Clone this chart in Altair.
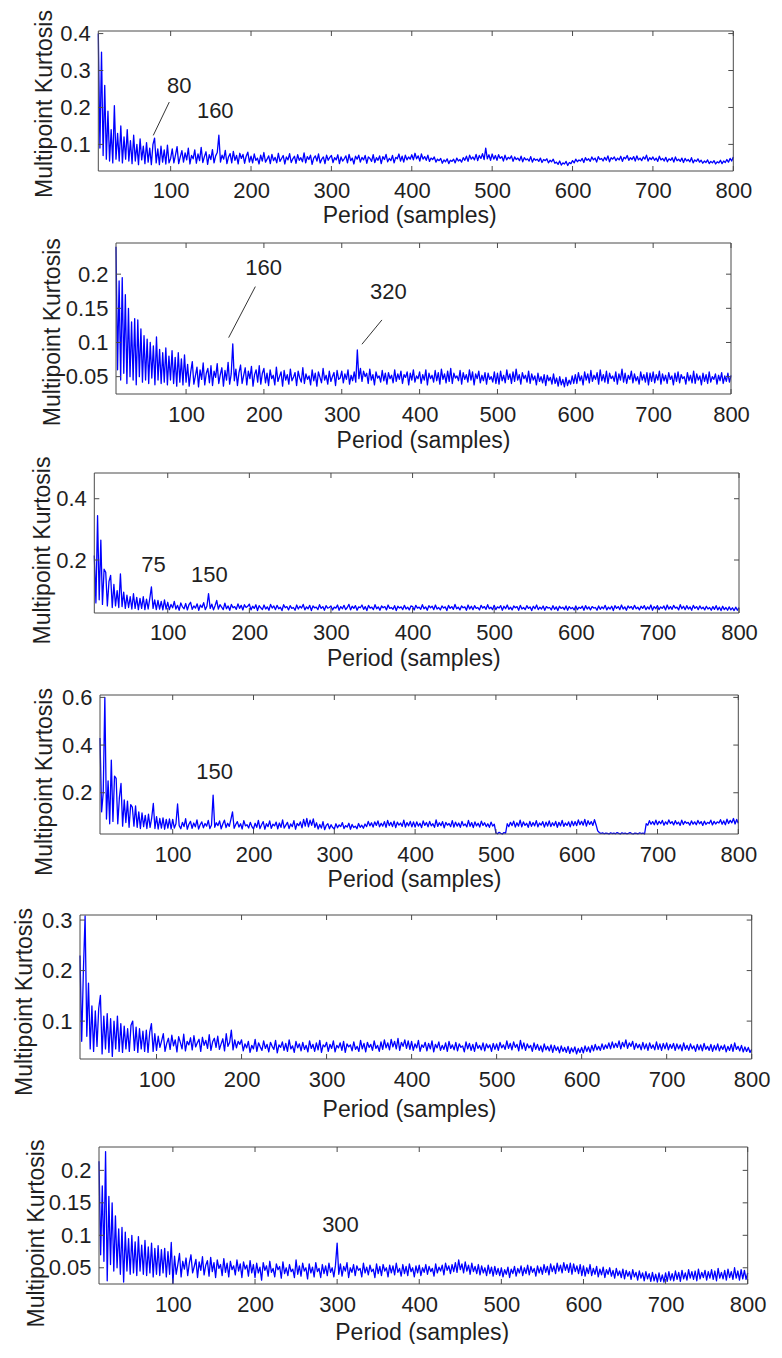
import altair as alt
import pandas as pd

# ---------------- data: kurtosis (units of 0.001), period 10..800 step 2 ------
periods = list(range(10, 801, 2))

k1 = [400, 90, 350, 70, 260, 60, 190, 55, 140, 50, 205, 60, 130, 55, 150, 50, 120, 60, 140, 55,
      110, 48, 125, 55, 100, 45, 115, 58, 95, 48, 105, 52, 90, 45, 100, 117, 50, 88, 45, 95,
      52, 85, 47, 98, 50,
      62, 88, 50, 71, 94, 48, 66, 83, 52, 77, 58, 90, 47, 70, 61, 85, 49, 74, 56, 92,
      51, 67, 80, 46, 72, 59, 86, 50, 69, 78, 125, 52, 71, 60, 84, 48, 66, 75, 50, 81,
      57, 70, 47, 76, 62, 73, 49, 68, 79, 52,
      68, 50, 74, 57, 63, 47, 71, 55, 78, 52, 60, 69, 48, 73, 56, 65, 50, 76, 54, 62,
      70, 47, 66, 58, 75, 51, 61, 68, 49, 72, 57, 64, 53, 77, 50, 67, 59, 71, 46, 63,
      69, 55, 74, 50, 60, 66, 48, 71, 57, 65,
      70, 51, 64, 58, 72, 48, 66, 55, 61, 69, 50, 73, 56, 63, 47, 68, 60, 71, 52, 65,
      58, 70, 49, 66, 62, 54, 72, 51, 64, 57, 69, 48, 67, 59, 73, 53, 62, 56, 70, 50,
      65, 61, 74, 55, 68, 52, 71, 58, 66, 60,
      72, 58, 76, 61, 69, 55, 74, 60, 67, 57, 71, 54, 63, 59, 66, 52, 60, 56, 62, 49,
      58, 53, 61, 48, 57, 54, 60, 50, 63, 55, 59, 52, 64, 57, 68, 54, 71, 60, 66, 58,
      73, 56, 70, 62, 75, 59, 90, 61, 72, 57,
      74, 60, 70, 57, 72, 62, 67, 55, 71, 58, 65, 61, 69, 54, 66, 59, 63, 56, 68, 53,
      64, 58, 61, 55, 67, 52, 62, 57, 60, 54, 63, 51, 59, 56, 61, 50, 57, 53, 60, 49,
      52, 46, 55, 44, 50, 47, 54, 43, 51, 48,
      56, 50, 60, 53, 58, 55, 62, 51, 64, 57, 61, 54, 66, 58, 63, 52, 67, 59, 62, 55,
      65, 57, 69, 53, 64, 60, 66, 56, 63, 58, 68, 54, 65, 61, 70, 57, 64, 59, 67, 55,
      69, 58, 63, 56, 66, 60, 71, 55, 64, 59,
      66, 57, 63, 54, 68, 58, 62, 55, 65, 53, 61, 57, 64, 52, 66, 56, 60, 54, 63, 51,
      62, 55, 59, 53, 64, 50, 58, 54, 61, 52, 57, 49, 55, 51, 58, 48, 54, 50, 56, 47,
      53, 50, 57, 48, 55, 51, 59, 52, 62, 55,
      66]

k2 = [240, 60, 190, 45, 195, 55, 170, 40, 150, 50, 130, 45, 135, 38, 133, 50, 120, 42, 110, 45,
      105, 40, 100, 48, 95, 38, 108, 45, 90, 40, 85, 42, 92, 38, 80, 45, 88, 40, 78, 36,
      85, 42, 76, 38, 82,
      42, 68, 36, 57, 72, 39, 51, 64, 35, 60, 46, 70, 38, 55, 62, 41, 66, 37, 58, 49,
      69, 40, 53, 63, 36, 59, 45, 71, 39, 54, 98, 44, 61, 37, 56, 67, 40, 52, 63, 38,
      58, 47, 65, 36, 53, 60, 42, 66, 39, 55,
      62, 41, 55, 37, 60, 47, 52, 38, 64, 43, 50, 57, 36, 59, 45, 53, 39, 61, 44, 49,
      56, 37, 58, 48, 42, 63, 40, 54, 46, 51, 38, 60, 44, 55, 36, 57, 49, 41, 62, 45,
      52, 39, 58, 43, 50, 56, 37, 59, 46, 48,
      58, 41, 54, 46, 60, 39, 52, 44, 57, 42, 89, 47, 62, 43, 58, 50, 55, 40, 61, 45,
      53, 38, 57, 48, 51, 42, 59, 44, 55, 39, 56, 47, 52, 41, 60, 43, 54, 46, 58, 40,
      53, 49, 57, 38, 55, 45, 60, 42, 51, 47,
      57, 40, 53, 45, 60, 38, 55, 47, 52, 42, 59, 44, 56, 39, 61, 46, 54, 41, 58, 43,
      62, 40, 55, 48, 51, 44, 59, 39, 56, 46, 53, 42, 60, 45, 57, 38, 54, 47, 58, 41,
      52, 44, 56, 39, 55, 46, 50, 42, 57, 40,
      55, 39, 58, 44, 52, 41, 60, 46, 54, 40, 57, 43, 61, 45, 53, 39, 56, 47, 52, 42,
      58, 40, 54, 45, 51, 38, 55, 43, 50, 41, 53, 37, 52, 44, 49, 39, 54, 40, 48, 36,
      50, 38, 46, 35, 49, 37, 45, 39, 51, 40,
      53, 40, 56, 44, 51, 38, 57, 45, 54, 41, 59, 43, 52, 46, 56, 39, 60, 44, 53, 42,
      58, 40, 55, 47, 51, 43, 57, 39, 54, 45, 61, 42, 55, 40, 52, 46, 58, 41, 54, 44,
      50, 39, 57, 45, 53, 42, 56, 38, 55, 43,
      57, 41, 53, 45, 58, 39, 54, 44, 52, 40, 56, 46, 51, 38, 55, 43, 57, 41, 53, 47,
      50, 39, 56, 44, 52, 41, 58, 40, 54, 45, 51, 38, 55, 43, 53, 40, 57, 42, 50, 46,
      54, 39, 52, 44, 56, 40, 51, 43, 55, 42,
      52]

k3 = [215, 60, 345, 70, 265, 55, 170, 160, 50, 130, 150, 45, 120, 50, 100, 45, 155, 48, 95, 42,
      85, 45, 80, 40, 90, 42, 78, 38, 75, 42, 80, 38, 72, 40, 75, 112, 42, 70, 38, 68,
      40, 65, 37, 70, 40,
      62, 38, 55, 44, 65, 40, 52, 36, 60, 47, 41, 58, 37, 54, 62, 39, 50, 43, 57, 36,
      53, 45, 61, 38, 49, 90, 42, 56, 37, 51, 68, 40, 54, 46, 38, 59, 41, 50, 36, 55,
      44, 48, 39, 57, 42, 52, 37, 54, 45, 49,
      56, 37, 49, 42, 54, 35, 51, 44, 38, 53, 40, 47, 36, 55, 43, 50, 38, 52, 41, 46,
      35, 54, 44, 48, 37, 51, 42, 45, 36, 53, 40, 49, 43, 55, 37, 47, 41, 52, 35, 50,
      44, 46, 38, 54, 42, 48, 36, 51, 43, 45,
      50, 37, 46, 43, 53, 36, 48, 41, 52, 38, 45, 55, 37, 49, 42, 51, 36, 47, 44, 53,
      39, 48, 35, 52, 43, 46, 38, 54, 41, 47, 36, 50, 44, 48, 37, 53, 42, 45, 39, 51,
      35, 49, 43, 47, 38, 52, 40, 46, 37, 50,
      48, 37, 52, 43, 46, 39, 54, 41, 47, 36, 51, 44, 49, 38, 53, 40, 45, 37, 50, 43,
      47, 35, 52, 42, 48, 39, 55, 41, 46, 37, 50, 44, 47, 36, 53, 40, 49, 38, 51, 42,
      45, 37, 52, 43, 48, 39, 54, 41, 46, 38,
      52, 38, 47, 43, 51, 36, 49, 41, 53, 39, 46, 37, 50, 44, 48, 36, 52, 40, 45, 38,
      51, 42, 47, 35, 49, 41, 53, 38, 46, 40, 50, 36, 48, 43, 45, 37, 51, 39, 47, 35,
      49, 42, 46, 38, 50, 36, 48, 41, 45, 37,
      50, 38, 46, 42, 49, 36, 51, 40, 47, 37, 48, 43, 45, 36, 50, 39, 47, 41, 52, 37,
      46, 40, 49, 35, 51, 42, 48, 38, 53, 40, 47, 36, 50, 43, 48, 39, 52, 41, 46, 37,
      49, 42, 51, 38, 47, 40, 53, 36, 48, 41,
      51, 38, 47, 42, 50, 37, 53, 40, 48, 39, 52, 43, 46, 37, 54, 41, 49, 38, 51, 40,
      47, 36, 52, 42, 48, 38, 50, 41, 46, 37, 49, 40, 45, 36, 48, 39, 51, 37, 46, 35,
      49, 38, 45, 36, 47, 37, 44, 35, 46, 36,
      45]

k4 = [430, 120, 200, 600, 90, 250, 70, 337, 80, 270, 260, 70, 180, 239, 60, 170, 75, 165, 55, 150,
      140, 60, 145, 55, 120, 50, 115, 58, 105, 50, 110, 55, 95, 155, 50, 100, 48, 92, 52, 95,
      47, 88, 52, 90, 48,
      88, 52, 70, 153, 62, 49, 76, 58, 91, 47, 68, 80, 51, 73, 57, 86, 48, 66, 78, 53,
      71, 60, 84, 50, 65, 190, 55, 74, 62, 82, 49, 69, 85, 54, 72, 59, 88, 120, 51, 67,
      79, 56, 70, 48, 83, 61, 66, 52, 76, 58,
      48, 72, 55, 84, 50, 66, 79, 47, 70, 58, 82, 51, 68, 61, 77, 49, 73, 55, 86, 52,
      64, 76, 50, 69, 58, 83, 47, 71, 62, 78, 53, 88, 60, 92, 57, 85, 63, 90, 55, 74,
      48, 67, 52, 79, 45, 63, 70, 49, 66, 54,
      48, 70, 53, 65, 58, 75, 50, 62, 56, 72, 47, 67, 54, 60, 49, 71, 55, 64, 51, 69,
      58, 80, 61, 74, 56, 78, 63, 82, 57, 72, 60, 79, 55, 84, 62, 76, 58, 81, 54, 77,
      64, 73, 59, 85, 56, 75, 61, 80, 57, 78,
      56, 78, 60, 72, 54, 82, 63, 75, 57, 80, 61, 70, 55, 86, 59, 74, 62, 79, 53, 76,
      64, 71, 58, 83, 56, 77, 60, 73, 55, 80, 62, 69, 57, 84, 59, 75, 54, 78, 61, 72,
      56, 81, 63, 74, 58, 70, 55, 77, 60, 68,
      32, 28, 34, 30, 27, 33, 31, 70, 58, 76, 62, 81, 56, 74, 60, 85, 57, 78, 63, 72,
      55, 80, 59, 75, 61, 83, 57, 73, 64, 79, 56, 77, 60, 82, 58, 74, 62, 80, 55, 76,
      61, 84, 59, 73, 63, 78, 57, 81, 62, 79,
      62, 86, 66, 80, 64, 88, 60, 83, 67, 79, 63, 87, 65, 40, 33, 29, 32, 28, 31, 30,
      27, 32, 29, 31, 28, 33, 30, 27, 32, 29, 31, 28, 30, 33, 29, 27, 31, 30, 28, 32,
      29, 31, 27, 70, 64, 83, 68, 79, 66, 85,
      66, 80, 70, 84, 64, 78, 68, 86, 71, 79, 65, 83, 69, 77, 63, 85, 67, 80, 72, 76,
      64, 82, 68, 78, 66, 84, 70, 79, 63, 81, 67, 76, 71, 85, 65, 80, 69, 78, 73, 87,
      68, 82, 66, 89, 71, 84, 74, 92, 69, 88,
      72]

k5 = [230, 60, 200, 308, 70, 175, 45, 130, 40, 120, 50, 125, 151, 35, 110, 45, 115, 38, 105, 30,
      100, 45, 110, 40, 95, 38, 90, 45, 85, 40, 92, 100, 42, 88, 38, 85, 45, 80, 40, 82,
      38, 78, 95, 40, 75,
      42, 70, 48, 61, 75, 40, 56, 66, 44, 72, 51, 63, 39, 69, 58, 45, 74, 41, 60, 53,
      67, 43, 71, 49, 57, 64, 40, 68, 52, 62, 46, 73, 42, 59, 66, 48, 70, 44, 55, 65,
      41, 75, 50, 58, 82, 43, 63, 47, 60, 54,
      63, 41, 55, 47, 60, 38, 52, 45, 64, 40, 57, 49, 42, 61, 46, 54, 39, 58, 50, 44,
      62, 37, 53, 48, 59, 42, 56, 40, 63, 45, 51, 38, 60, 47, 55, 41, 58, 44, 52, 39,
      61, 46, 54, 40, 57, 43, 62, 38, 53, 49,
      58, 40, 54, 46, 61, 39, 52, 47, 57, 42, 60, 38, 55, 49, 53, 41, 59, 44, 50, 40,
      62, 45, 56, 39, 58, 48, 54, 42, 61, 46, 52, 40, 59, 44, 63, 47, 57, 43, 64, 49,
      60, 45, 66, 42, 58, 50, 63, 46, 61, 44,
      60, 42, 55, 47, 62, 40, 53, 48, 58, 41, 56, 45, 61, 39, 54, 47, 59, 42, 52, 44,
      57, 40, 60, 46, 53, 43, 58, 41, 55, 48, 51, 39, 59, 45, 56, 42, 54, 40, 58, 46,
      52, 43, 57, 41, 55, 47, 53, 40, 56, 44,
      55, 42, 58, 47, 53, 44, 61, 46, 56, 43, 59, 48, 54, 41, 62, 45, 57, 42, 55, 47,
      52, 40, 57, 44, 54, 42, 51, 39, 55, 43, 50, 41, 53, 38, 52, 42, 49, 37, 51, 40,
      48, 38, 50, 36, 47, 39, 49, 35, 46, 38,
      48, 37, 51, 40, 49, 38, 52, 41, 54, 43, 50, 42, 55, 44, 53, 46, 57, 45, 59, 47,
      56, 48, 61, 45, 58, 49, 63, 46, 57, 50, 60, 44, 56, 47, 54, 43, 58, 45, 55, 42,
      57, 46, 53, 43, 59, 44, 55, 42, 56, 45,
      57, 43, 54, 46, 56, 42, 55, 45, 53, 41, 57, 44, 52, 42, 55, 45, 51, 40, 54, 43,
      53, 41, 56, 44, 50, 42, 54, 40, 52, 43, 55, 41, 51, 44, 53, 39, 50, 42, 54, 40,
      57, 44, 50, 41, 52, 39, 49, 40, 48, 38,
      44]

k6 = [214, 70, 176, 60, 229, 30, 160, 55, 150, 45, 130, 50, 110, 40, 112, 28, 105, 45, 95, 40,
      100, 42, 90, 38, 98, 45, 85, 40, 92, 38, 82, 42, 88, 36, 80, 40, 84, 38, 78, 42,
      80, 36, 75, 40, 89,
      26, 68, 40, 55, 72, 36, 60, 48, 65, 38, 57, 70, 42, 52, 63, 35, 59, 46, 67, 39,
      54, 61, 37, 66, 44, 58, 35, 62, 49, 55, 38, 64, 43, 57, 36, 60, 47, 53, 39, 62,
      45, 56, 35, 59, 48, 54, 37, 61, 42, 55,
      35, 57, 42, 51, 31, 58, 46, 53, 37, 60, 43, 49, 36, 56, 47, 52, 34, 59, 41, 50,
      38, 55, 44, 48, 35, 62, 40, 53, 37, 57, 45, 50, 33, 56, 42, 51, 36, 58, 44, 49,
      35, 55, 41, 53, 38, 57, 43, 50, 36, 54,
      88, 40, 56, 37, 52, 45, 58, 35, 50, 43, 55, 38, 53, 46, 49, 36, 57, 42, 51, 39,
      54, 44, 48, 35, 56, 41, 52, 38, 55, 45, 50, 36, 54, 42, 53, 39, 57, 43, 49, 37,
      55, 41, 52, 38, 56, 44, 50, 36, 53, 42,
      54, 38, 50, 43, 55, 40, 52, 44, 49, 37, 56, 42, 51, 45, 54, 39, 57, 46, 53, 41,
      55, 44, 58, 43, 62, 47, 56, 42, 59, 45, 54, 40, 57, 44, 52, 41, 55, 39, 53, 42,
      50, 38, 54, 41, 51, 37, 52, 40, 49, 38,
      50, 36, 47, 40, 51, 35, 48, 41, 52, 37, 49, 42, 53, 38, 50, 41, 54, 39, 52, 43,
      49, 37, 53, 42, 51, 40, 55, 43, 52, 39, 56, 44, 53, 41, 57, 45, 54, 42, 58, 46,
      55, 43, 57, 40, 56, 44, 53, 41, 55, 38,
      53, 37, 50, 41, 55, 38, 49, 40, 52, 36, 48, 39, 51, 35, 47, 40, 50, 37, 46, 34,
      49, 38, 45, 35, 48, 33, 46, 37, 44, 32, 47, 36, 43, 31, 45, 34, 42, 30, 44, 33,
      41, 29, 43, 30, 40, 28, 42, 29, 39, 28,
      42, 29, 44, 31, 41, 30, 45, 32, 43, 29, 46, 33, 42, 31, 47, 34, 44, 32, 45, 30,
      48, 33, 43, 35, 46, 31, 44, 34, 47, 32, 45, 30, 49, 34, 43, 33, 46, 31, 48, 35,
      44, 32, 50, 34, 45, 31, 47, 33, 46, 32,
      42]

series = [k1, k2, k3, k4, k5, k6]
for n, s in enumerate(series):
    if len(s) != len(periods):
        raise ValueError(f"series {n + 1}: length {len(s)} != {len(periods)}")

x_domain = [10, 800]
x_ticks = [100, 200, 300, 400, 500, 600, 700, 800]

y_domains = [[0.028, 0.407], [0.0246, 0.2456], [0.027, 0.484],
             [0.027, 0.61], [0.025, 0.31], [0.025, 0.236]]
y_ticks = [[0.1, 0.2, 0.3, 0.4], [0.05, 0.1, 0.15, 0.2], [0.2, 0.4],
           [0.2, 0.4, 0.6], [0.1, 0.2, 0.3], [0.05, 0.1, 0.15, 0.2]]

# annotation labels (label, period, kurtosis)
ann_labels = [["80", "160"], ["160", "320"], ["75", "150"], ["150"], [], ["300"]]
ann_x = [[110.6, 155.5], [199.6, 360.0], [82.6, 150.9], [151.8], [], [304.1]]
ann_y = [[0.2585, 0.1913], [0.2088, 0.1745], [0.1836, 0.1508], [0.288], [], [0.1156]]

# pointer segments (x1, y1, x2, y2) in data units
seg_x1 = [[98.3], [189.0, 351.6], [], [], [], []]
seg_y1 = [[0.2146], [0.1818, 0.133], [], [], [], []]
seg_x2 = [[78.4], [154.7, 325.9], [], [], [], []]
seg_y2 = [[0.1244], [0.1071, 0.0974], [], [], [], []]

# ---------------- layout (page pixels) ----------------
FONT = "Liberation Sans"
TXT = "#1f1f1f"
FRAME = "#4a4a4a"
BLUE = "#0000ff"
TOP = 23       # plot top inside each panel view
W = 744        # common view width

LAYOUT = [
    dict(left=98.3, right=733.3, h=140, H=212, xlab=26.5, xt_cx=409.2, xt_base=51, yt_dx=-46.8, yt_cy=95.5),
    dict(left=116.0, right=731.0, h=151, H=230, xlab=27.0, xt_cx=423.0, xt_base=53, yt_dx=-56.2, yt_cy=111.7),
    dict(left=94.3, right=739.0, h=140, H=222, xlab=26.5, xt_cx=413.3, xt_base=52, yt_dx=-44.5, yt_cy=100.0),
    dict(left=100.0, right=738.3, h=139, H=220, xlab=27.5, xt_cx=414.0, xt_base=52, yt_dx=-48.5, yt_cy=109.5),
    dict(left=80.0, right=751.7, h=144, H=232, xlab=27.0, xt_cx=409.0, xt_base=57, yt_dx=-48.5, yt_cy=109.5),
    dict(left=99.0, right=747.7, h=137, H=160, xlab=27.5, xt_cx=421.7, xt_base=55, yt_dx=-55.8, yt_cy=109.0),
]


def make_panel(i):
    L = LAYOUT[i]
    x0 = L["left"] - 8
    x1 = L["right"] - 8
    yb = TOP + L["h"]
    ydom = y_domains[i]
    xs = alt.Scale(domain=x_domain, range=[x0, x1], nice=False, zero=False)
    ys = alt.Scale(domain=ydom, range=[yb, TOP], nice=False, zero=False)

    df = pd.DataFrame({"period": periods, "kurt": [v / 1000 for v in series[i]]})
    line = alt.Chart(df).mark_line(
        color=BLUE, strokeWidth=1.3, strokeJoin="round", clip=True
    ).encode(
        x=alt.X("period:Q", scale=xs, axis=alt.Axis(
            values=x_ticks, format="d", orient="bottom", offset=yb - L["H"],
            title="Period (samples)", titleX=L["xt_cx"] - 8, titleY=L["xt_base"],
            titleBaseline="alphabetic", titleAlign="center",
            labelPadding=L["xlab"], labelBaseline="alphabetic", labelAlign="center")),
        y=alt.Y("kurt:Q", scale=ys, axis=alt.Axis(
            values=y_ticks[i], format="~g", orient="left", offset=-x0,
            title="Multipoint Kurtosis", titleX=L["yt_dx"], titleY=L["yt_cy"],
            titleBaseline="alphabetic", titleAngle=270, titleAlign="center",
            labelPadding=8, labelBaseline="middle", labelAlign="right")),
    )

    xt = pd.DataFrame({"t": x_ticks})
    ytd = pd.DataFrame({"t": y_ticks[i]})
    xt_bottom = alt.Chart(xt).mark_rule(color=FRAME, strokeWidth=1).encode(
        x=alt.X("t:Q", scale=xs), y=alt.value(yb), y2=alt.value(yb - 5))
    xt_top = alt.Chart(xt).mark_rule(color=FRAME, strokeWidth=1).encode(
        x=alt.X("t:Q", scale=xs), y=alt.value(TOP), y2=alt.value(TOP + 5))
    yt_left = alt.Chart(ytd).mark_rule(color=FRAME, strokeWidth=1).encode(
        y=alt.Y("t:Q", scale=ys), x=alt.value(x0), x2=alt.value(x0 + 5))
    yt_right = alt.Chart(ytd).mark_rule(color=FRAME, strokeWidth=1).encode(
        y=alt.Y("t:Q", scale=ys), x=alt.value(x1 - 5), x2=alt.value(x1))

    frame_df = pd.DataFrame({"xa": [x_domain[0]], "xb": [x_domain[1]],
                             "ya": [ydom[0]], "yb": [ydom[1]]})
    frame = alt.Chart(frame_df).mark_rect(
        fillOpacity=0, stroke=FRAME, strokeWidth=1
    ).encode(
        x=alt.X("xa:Q", scale=xs), x2="xb:Q",
        y=alt.Y("ya:Q", scale=ys), y2="yb:Q")

    layers = [line, xt_bottom, xt_top, yt_left, yt_right]
    if ann_labels[i]:
        tdf = pd.DataFrame({"label": ann_labels[i], "x": ann_x[i], "y": ann_y[i]})
        layers.append(alt.Chart(tdf).mark_text(
            font=FONT, fontSize=22, color=TXT, align="center", baseline="middle"
        ).encode(
            x=alt.X("x:Q", scale=xs),
            y=alt.Y("y:Q", scale=ys),
            text="label:N"))
    if seg_x1[i]:
        sdf = pd.DataFrame({"xa": seg_x1[i], "ya": seg_y1[i],
                            "xb": seg_x2[i], "yb": seg_y2[i]})
        layers.append(alt.Chart(sdf).mark_rule(color="#333333", strokeWidth=1).encode(
            x=alt.X("xa:Q", scale=xs), x2="xb:Q",
            y=alt.Y("ya:Q", scale=ys), y2="yb:Q"))
    layers.append(frame)
    return alt.layer(*layers).properties(width=W, height=L["H"])


panels = [make_panel(i) for i in range(6)]

chart = alt.vconcat(*panels, spacing=0, bounds="flush").properties(
    padding=0
).configure_view(
    stroke=None
).configure_axis(
    domain=False, grid=False, ticks=False, tickSize=0,
    labelFont=FONT, labelFontSize=22, labelColor=TXT,
    titleFont=FONT, titleFontSize=23, titleFontWeight="normal", titleColor=TXT,
    labelFlush=False, labelOverlap=False,
)

chart.save("out.html", embed_options={"renderer": "svg", "actions": False})
